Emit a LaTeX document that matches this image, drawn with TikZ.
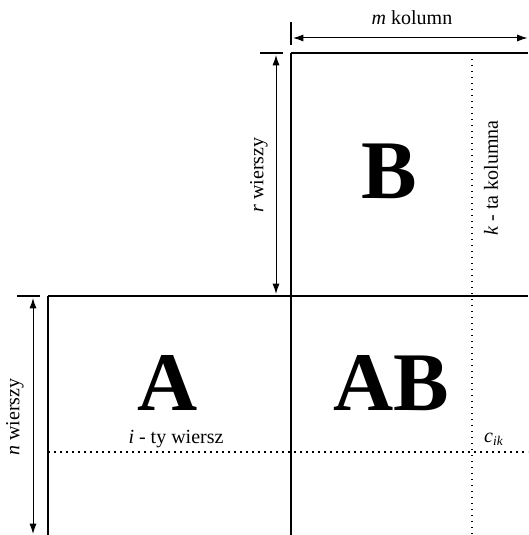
\documentclass[tikz,border=0pt]{standalone}
\usepackage{fontspec}
\setmainfont{Liberation Serif}
\usetikzlibrary{arrows.meta}
\tikzset{
  edge/.style={line width=0.8pt, black},
  tick/.style={line width=0.8pt, black},
  dimarr/.style={{Latex[length=2.2mm,width=1.5mm]}-{Latex[length=2.2mm,width=1.5mm]}, line width=0.6pt},
  dots/.style={line width=0.9pt, dash pattern=on 0.9pt off 2.7pt},
  dimlab/.style={font=\fontsize{12}{14}\selectfont, inner sep=1pt},
  big/.style={font=\fontsize{50}{60}\selectfont\bfseries, inner sep=0pt},
}
\begin{document}
\begin{tikzpicture}[x=0.6pt, y=-0.6pt]
        \useasboundingbox (0,0) rectangle (528,535);
        % corners of the blocks
        \coordinate (b0) at (291,53);  \coordinate (b1) at (528,53);
        \coordinate (a0) at (48,296);  \coordinate (a1) at (528,296);
        \coordinate (bb) at (291,535); \coordinate (ab) at (48,535);
        \draw[edge] (b0) -- (b1);
        \draw[edge] (a0) -- (a1);
        \draw[edge] (b0) -- (bb);
        \draw[edge] (a0) -- (ab);
        % short ticks for the dimension arrows
        \coordinate (tm0) at (291,22); \coordinate (tm1) at (291,45);
        \coordinate (tr0) at (260,53); \coordinate (tr1) at (283,53);
        \coordinate (tn0) at (17,296); \coordinate (tn1) at (40,296);
        \draw[tick] (tm0) -- (tm1);
        \draw[tick] (tr0) -- (tr1);
        \draw[tick] (tn0) -- (tn1);
        % dimension arrows
        \coordinate (m0) at (293,38); \coordinate (m1) at (527.5,38);
        \coordinate (r0) at (276,55); \coordinate (r1) at (276,294);
        \coordinate (n0) at (33,298); \coordinate (n1) at (33,534);
        \draw[dimarr] (m0) -- (m1);
        \draw[dimarr] (r0) -- (r1);
        \draw[dimarr] (n0) -- (n1);
        \node[dimlab] (mlab) at (412,18) {\textit{m} kolumn};
        \node[dimlab, rotate=90] (rlab) at (259,175) {\textit{r} wierszy};
        \node[dimlab, rotate=90] (nlab) at (15,417) {\textit{n} wierszy};
        % row i and column k
        \coordinate (k0) at (472,53); \coordinate (k1) at (472,535);
        \coordinate (i0) at (48,452); \coordinate (i1) at (528,452);
        \draw[dots] (k0) -- (k1);
        \draw[dots] (i0) -- (i1);
        \node[dimlab, rotate=90] (klab) at (491,178) {\textit{k} - ta kolumna};
        \node[dimlab] (ilab) at (176,439) {\textit{i} - ty wiersz};
        \node[dimlab] (clab) at (494,439) {\textit{c}\textsubscript{\textit{ik}}};
        % matrix names
        \node[big] (matA) at (168,383) {A};
        \node[big] (matB) at (389,171) {B};
        \node[big] (matAB) at (391,383) {AB};
      \end{tikzpicture}
\end{document}
